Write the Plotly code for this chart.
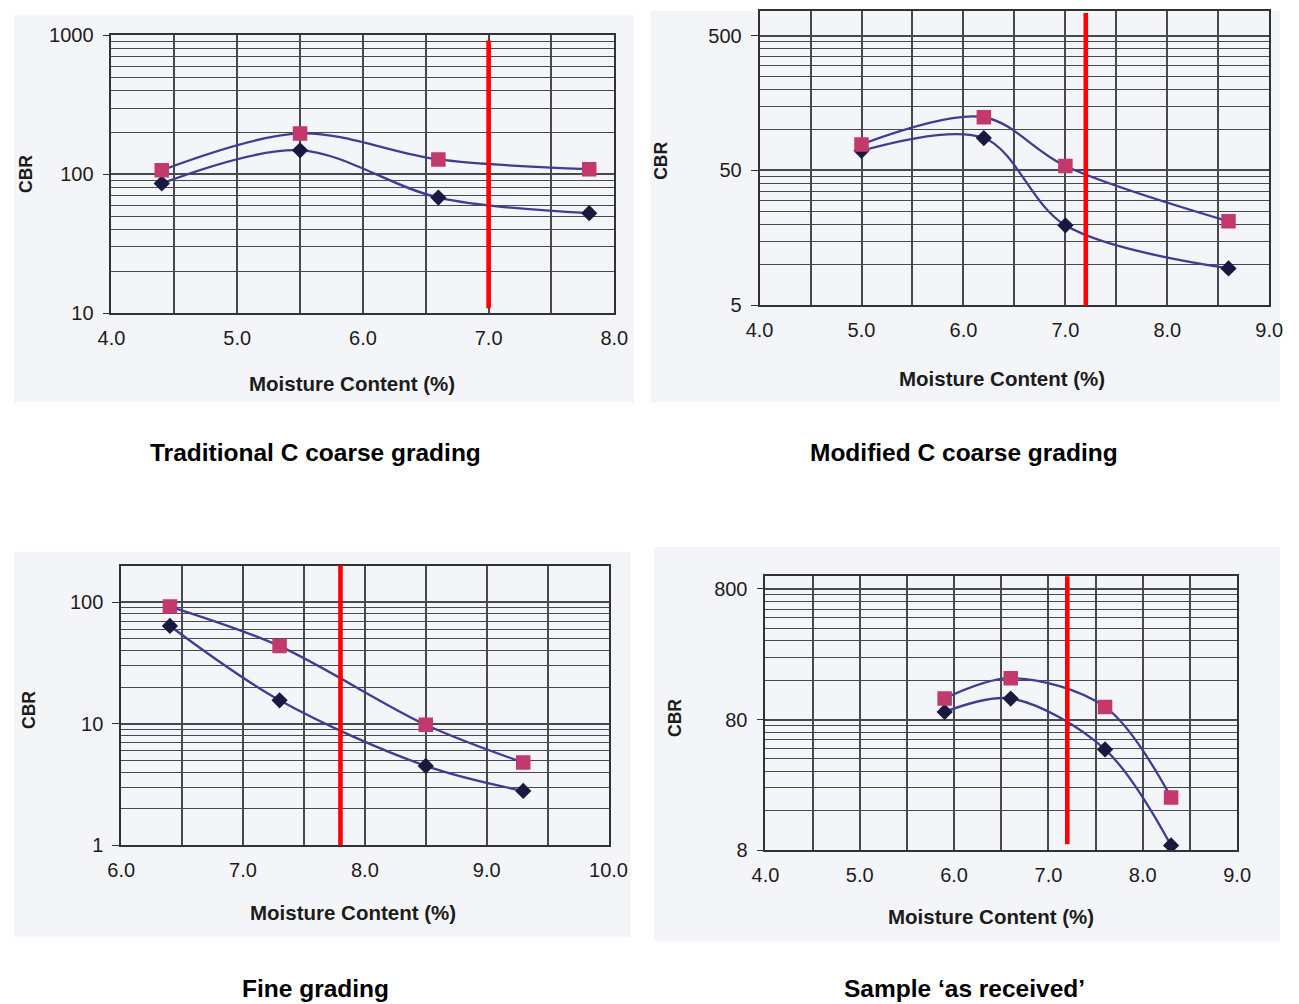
import math
import plotly.graph_objects as go

W, H = 1299, 1004

# Moisture content (%) against CBR for each grading.
# Series "a" = square markers, series "b" = diamond markers.
trad_mc = [4.4, 5.5, 6.6, 7.8]
trad_cbr_a = [107, 197, 128, 109]
trad_cbr_b = [86, 149, 68, 52.5]

mod_mc = [5.0, 6.2, 7.0, 8.6]
mod_cbr_a = [78, 124, 54, 21]
mod_cbr_b = [70, 87, 19.6, 9.4]

fine_mc = [6.4, 7.3, 8.5, 9.3]
fine_cbr_a = [92, 43.5, 9.8, 4.8]
fine_cbr_b = [63.7, 15.6, 4.5, 2.8]

recv_mc = [5.9, 6.6, 7.6, 8.3]
recv_cbr_a = [116, 166, 100, 20.3]
recv_cbr_b = [91.5, 116, 47.3, 8.7]

# optimum moisture content marker (red vertical line)
omc_x = [7.0, 7.2, 7.8, 7.2]

# axis settings
x_ranges = [(4.0, 8.0), (4.0, 9.0), (6.0, 10.0), (4.0, 9.0)]
y_ranges = [(10, 1000), (5, 760), (1, 200), (8, 1000)]
y_major = [[10, 100, 1000], [5, 50, 500], [1, 10, 100], [8, 80, 800]]

captions = ["Traditional C coarse grading", "Modified C coarse grading",
            "Fine grading", "Sample \u2018as received\u2019"]
x_title = "Moisture Content (%)"
y_title = "CBR"

panels = [
    (trad_mc, trad_cbr_a, trad_cbr_b),
    (mod_mc, mod_cbr_a, mod_cbr_b),
    (fine_mc, fine_cbr_a, fine_cbr_b),
    (recv_mc, recv_cbr_a, recv_cbr_b),
]

# ---- layout geometry (pixels: left, right, top, bottom) ----
plot_box = [(100, 616, 25, 309), (765, 1288, 0, 301),
            (110, 610, 567, 853), (771, 1255, 578, 858)]
scan_box = [(0, 636, 4, 400), (653, 1299, 0, 400),
            (0, 632, 553, 947), (657, 1299, 548, 951)]
omc_span = [(0.018, 0.982), (0.0, 0.993), (0.0, 1.0), (0.022, 1.0)]
xtitle_pos = [(347, 381), (1014, 376), (348, 922), (1002, 926)]
ytitle_pos = [(13, 167), (664, 153), (16, 715), (678, 723)]
caption_pos = [(309, 451), (975, 451), (309, 999), (975, 999)]

LINE = "#3d3c96"
SQUARE = "#c4396b"
DIAMOND = "#191940"
GRID = "#48484e"
FRAME = "#323236"
SCAN_BG = "#f4f5f8"
FONT = "Liberation Sans, Arial, sans-serif"
TEXT = "#1c1c1c"


def px(x):
    return x / W


def py(y):
    return 1 - y / H


def log_minor(majors, top):
    vals = []
    for m in majors:
        for k in range(2, 10):
            v = m * k
            if v < top:
                vals.append(v)
    return vals


fig = go.Figure()
shapes = []
annotations = []

for i, (mc, a, b) in enumerate(panels):
    n = i + 1
    xa = "x" if n == 1 else f"x{n}"
    ya = "y" if n == 1 else f"y{n}"
    x0, x1, y0, y1 = plot_box[i]

    fig.add_trace(go.Scatter(
        x=mc, y=b, xaxis=xa, yaxis=ya, mode="lines+markers",
        line=dict(color=LINE, width=2.3, shape="spline", smoothing=0.95),
        marker=dict(symbol="diamond", size=12.5, color=DIAMOND),
        showlegend=False))
    fig.add_trace(go.Scatter(
        x=mc, y=a, xaxis=xa, yaxis=ya, mode="lines+markers",
        line=dict(color=LINE, width=2.3, shape="spline", smoothing=0.95),
        marker=dict(symbol="square", size=14.5, color=SQUARE),
        showlegend=False))

    xr = x_ranges[i]
    yr = y_ranges[i]
    xkey = "xaxis" if n == 1 else f"xaxis{n}"
    ykey = "yaxis" if n == 1 else f"yaxis{n}"
    fig.update_layout(**{
        xkey: dict(
            domain=[px(x0), px(x1)], anchor=ya, range=list(xr),
            tickmode="linear", tick0=xr[0], dtick=1.0, tickformat=".1f",
            showgrid=True, gridcolor=GRID, gridwidth=1.5,
            minor=dict(dtick=0.5, tick0=xr[0], showgrid=True,
                       gridcolor=GRID, gridwidth=1.5),
            showline=True, linecolor=FRAME, linewidth=1.8, mirror=True,
            ticks="", ticklabelstandoff=6,
            tickfont=dict(family=FONT, size=20, color=TEXT),
            zeroline=False, fixedrange=True),
        ykey: dict(
            domain=[py(y1), py(y0)], anchor=xa, type="log",
            range=[math.log10(yr[0]), math.log10(yr[1])],
            tickmode="array", tickvals=y_major[i],
            ticktext=[str(v) for v in y_major[i]],
            showgrid=True, gridcolor=GRID, gridwidth=1.5,
            minor=dict(tickmode="array", tickvals=log_minor(y_major[i], yr[1]),
                       showgrid=True, gridcolor=GRID, gridwidth=1.3, ticks=""),
            showline=True, linecolor=FRAME, linewidth=1.8, mirror=True,
            ticks="outside", ticklen=7, tickcolor=FRAME, tickwidth=1.4,
            ticklabelstandoff=5,
            tickfont=dict(family=FONT, size=20, color=TEXT),
            zeroline=False, fixedrange=True),
    })

    # light tinted chart backdrop
    sx0, sx1, sy0, sy1 = scan_box[i]
    shapes.append(dict(type="rect", xref="paper", yref="paper",
                       x0=px(sx0), x1=px(sx1), y0=py(sy1), y1=py(sy0),
                       fillcolor=SCAN_BG, line=dict(width=0), layer="below"))

    # optimum moisture content line
    s0, s1 = omc_span[i]
    shapes.append(dict(type="line", xref=xa, yref=f"{ya} domain",
                       x0=omc_x[i], x1=omc_x[i], y0=s0, y1=s1,
                       line=dict(color="#ff0000", width=4.6), layer="above"))

    tx, ty = xtitle_pos[i]
    annotations.append(dict(text=f"<b>{x_title}</b>", x=px(tx), y=py(ty),
                            xref="paper", yref="paper", showarrow=False,
                            xanchor="center", yanchor="middle",
                            font=dict(family=FONT, size=20.5, color=TEXT)))
    cx, cy = ytitle_pos[i]
    annotations.append(dict(text=f"<b>{y_title}</b>", x=px(cx), y=py(cy),
                            xref="paper", yref="paper", showarrow=False,
                            textangle=-90, xanchor="center", yanchor="middle",
                            font=dict(family=FONT, size=17.5, color=TEXT)))
    kx, ky = caption_pos[i]
    annotations.append(dict(text=f"<b>{captions[i]}</b>", x=px(kx), y=py(ky),
                            xref="paper", yref="paper", showarrow=False,
                            xanchor="center", yanchor="middle",
                            font=dict(family=FONT, size=24.5, color="#000000")))

fig.update_layout(
    width=W, height=H,
    margin=dict(l=0, r=0, t=0, b=0),
    paper_bgcolor="#ffffff", plot_bgcolor=SCAN_BG,
    shapes=shapes, annotations=annotations,
    showlegend=False,
)

fig.write_html(
    "out.html",
    config={"displayModeBar": False},
    post_script="document.body.style.margin='0';document.body.style.overflow='hidden';",
)
